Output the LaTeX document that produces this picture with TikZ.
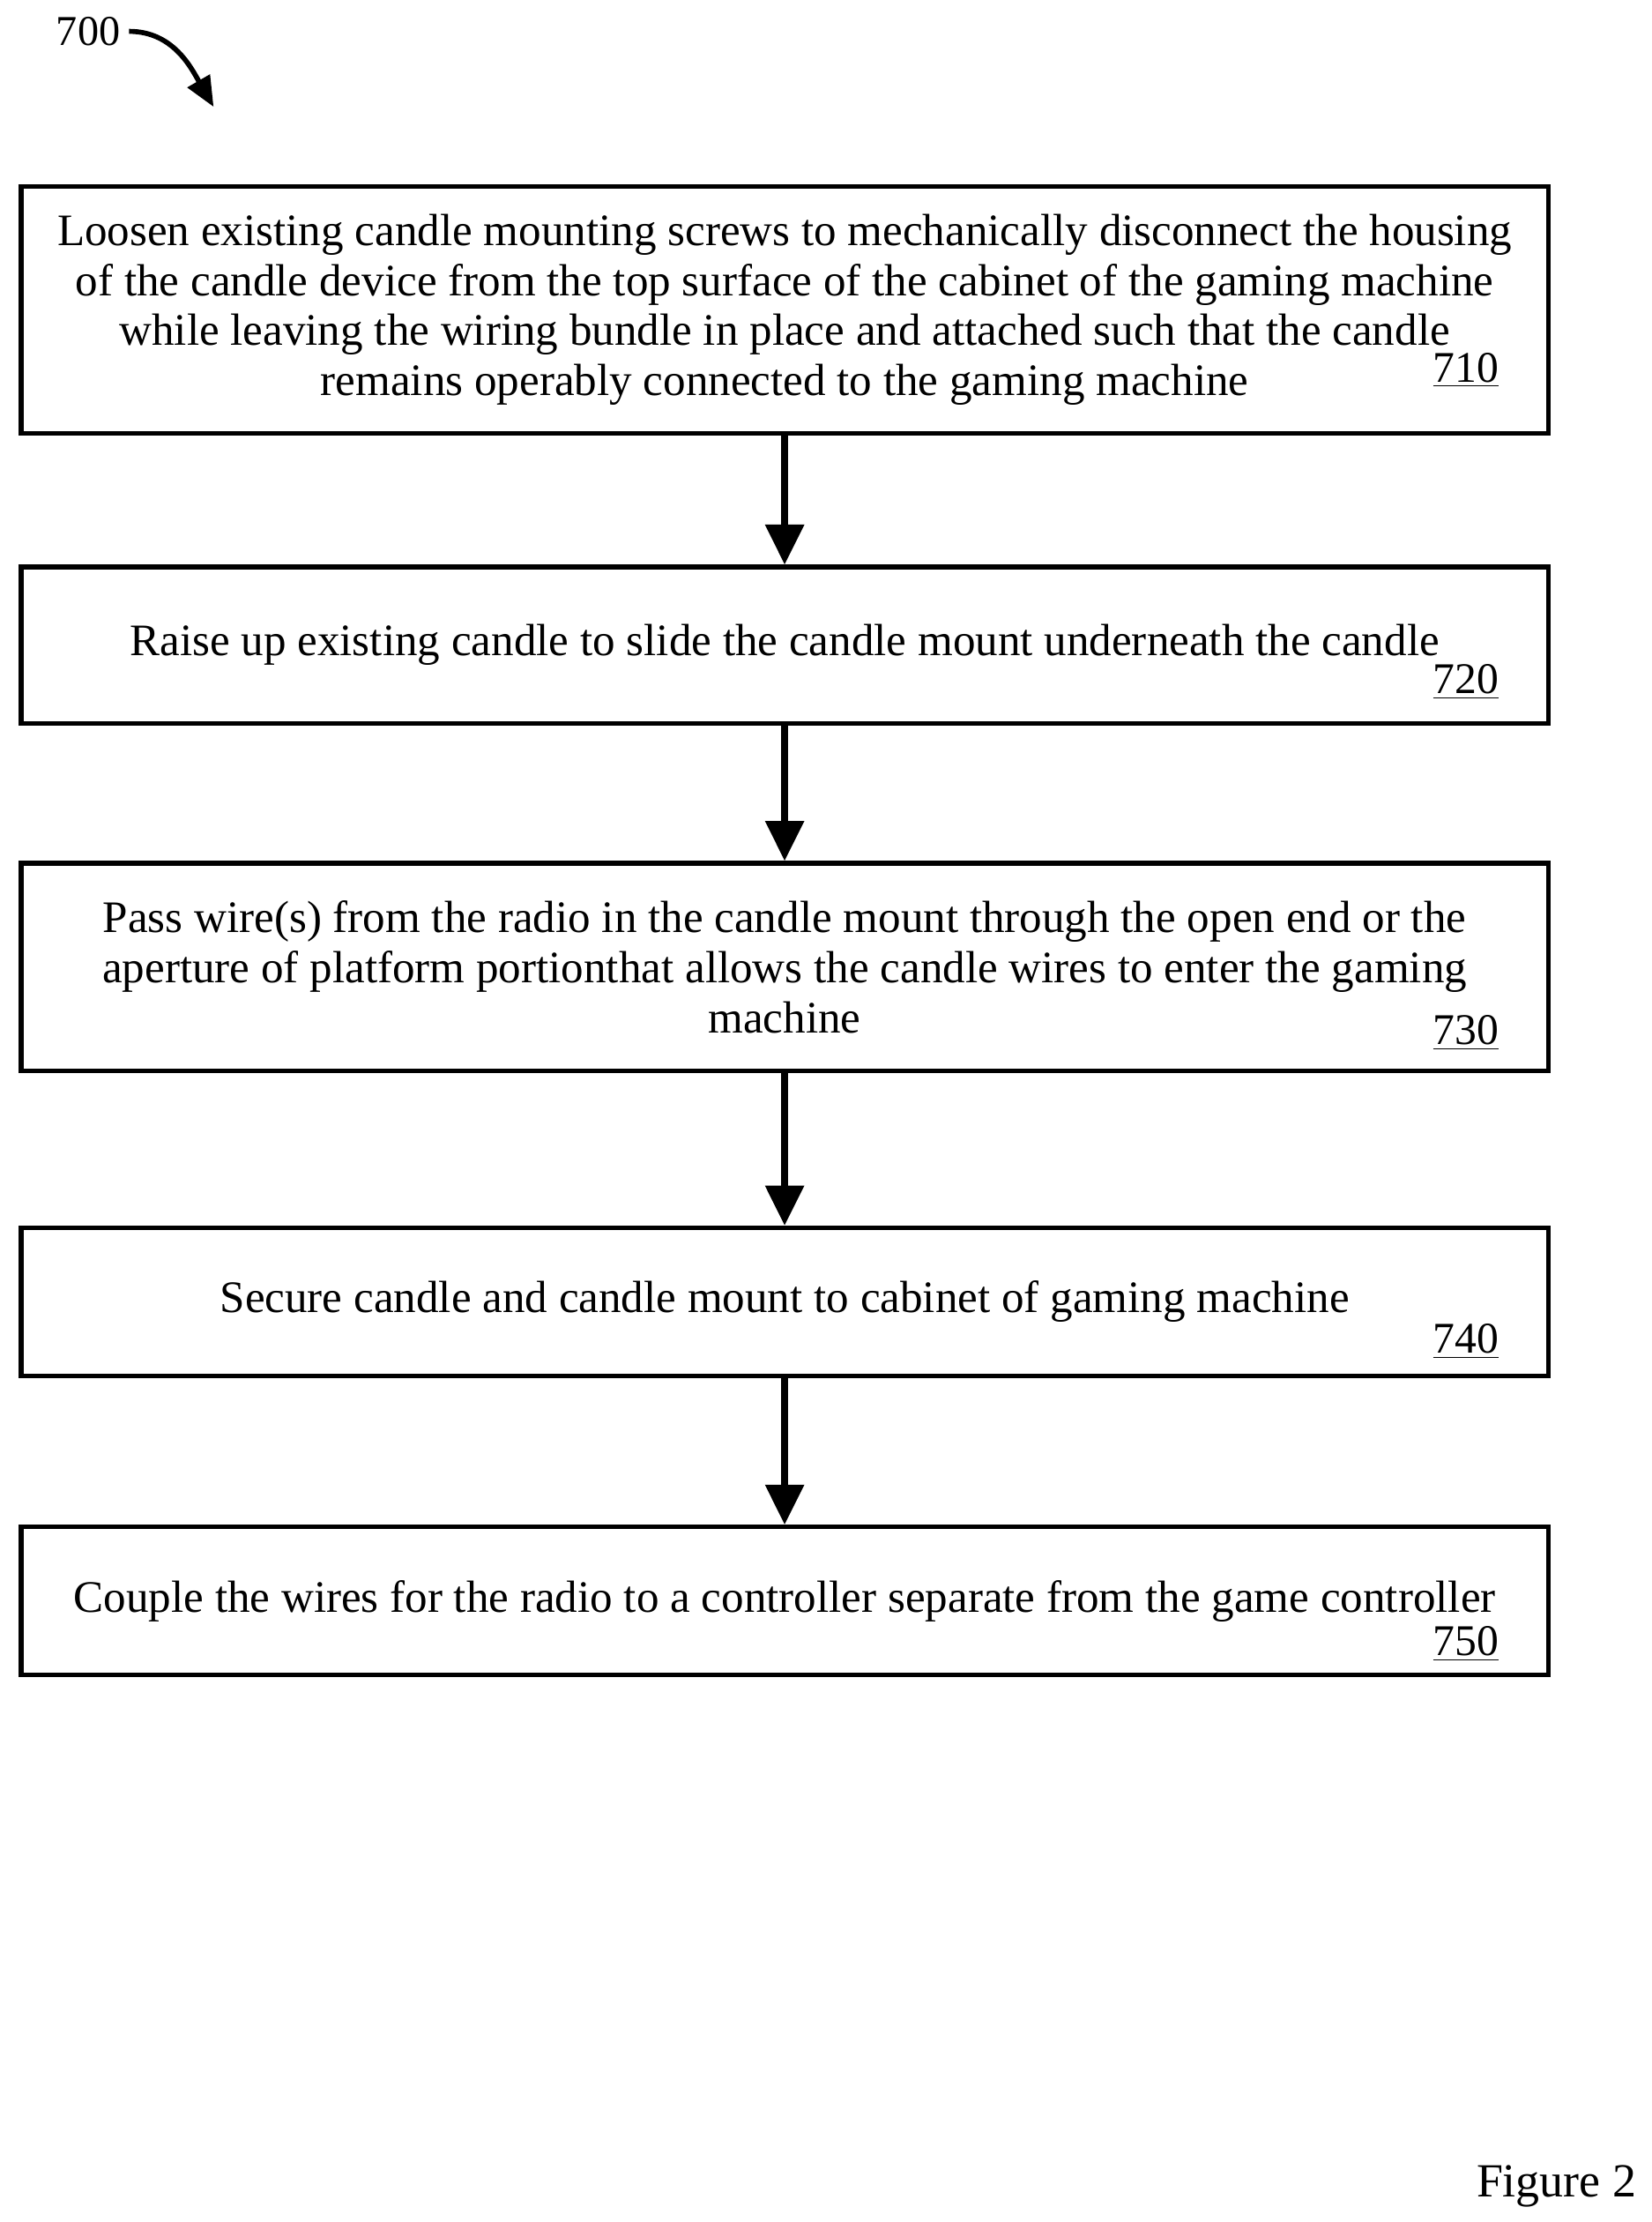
\documentclass[tikz,border=0pt]{standalone}
\usepackage{fontspec}
\setmainfont{Liberation Serif}
\usetikzlibrary{arrows.meta,positioning}
\tikzset{
  stepbox/.style={draw,line width=1.8pt,minimum width=21.45cm,align=center,font=\fontsize{18}{20}\selectfont},
  flow/.style={-{Triangle[length=16pt,width=15pt]},line width=2.8pt},
  refnum/.style={font=\fontsize{17.5}{19}\selectfont,anchor=south east}
}
\begin{document}
\begin{tikzpicture}[x=0.02cm,y=-0.02cm]
  \useasboundingbox (0,0) rectangle (1160,1560);
  % figure number
  \node[font=\fontsize{17}{19}\selectfont] (fig) at (62,22) {700};
  \coordinate (figend) at (150,75);
  \draw[-{Triangle[length=12pt,width=10pt]},line width=2pt] (fig.east) to[out=0,in=120] (figend);
  % steps
  \node[stepbox,minimum height=3.46cm] (s710) at (551,217.5) {Loosen existing candle mounting screws to mechanically disconnect the housing\\of the candle device from the top surface of the cabinet of the gaming machine\\while leaving the wiring bundle in place and attached such that the candle\\remains operably connected to the gaming machine};
  \node[stepbox,minimum height=2.2cm] (s720) at (551,453) {Raise up existing candle to slide the candle mount underneath the candle};
  \node[stepbox,minimum height=2.92cm] (s730) at (551,679) {Pass wire(s) from the radio in the candle mount through the open end or the\\aperture of platform portionthat allows the candle wires to enter the gaming\\machine};
  \node[stepbox,minimum height=2.08cm] (s740) at (551,914) {Secure candle and candle mount to cabinet of gaming machine};
  \node[stepbox,minimum height=2.08cm] (s750) at (551,1124) {Couple the wires for the radio to a controller separate from the game controller};
  % reference numbers
  \node[refnum] at ([xshift=-0.6cm,yshift=0.55cm]s710.south east) {\underline{710}};
  \node[refnum] at ([xshift=-0.6cm,yshift=0.25cm]s720.south east) {\underline{720}};
  \node[refnum] at ([xshift=-0.6cm,yshift=0.2cm]s730.south east) {\underline{730}};
  \node[refnum] at ([xshift=-0.6cm,yshift=0.15cm]s740.south east) {\underline{740}};
  \node[refnum] at ([xshift=-0.6cm,yshift=0.1cm]s750.south east) {\underline{750}};
  % arrows
  \draw[flow] (s710) -- (s720);
  \draw[flow] (s720) -- (s730);
  \draw[flow] (s730) -- (s740);
  \draw[flow] (s740) -- (s750);
  \node[font=\fontsize{19}{20}\selectfont] (caption) at (1093,1535) {Figure 2};
\end{tikzpicture}
\end{document}
